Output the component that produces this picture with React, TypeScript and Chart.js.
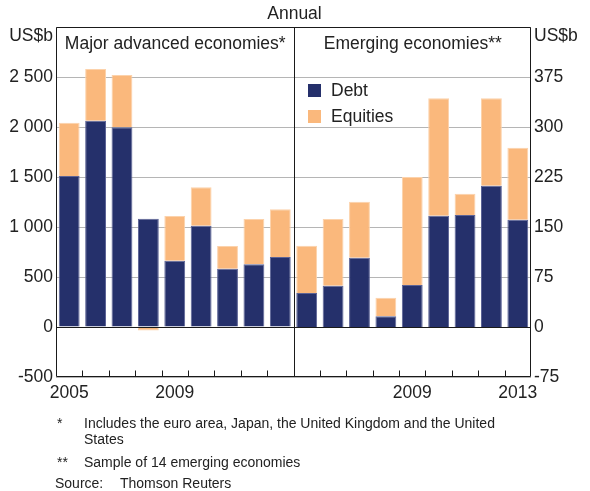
import React, { useEffect, useRef } from 'react';
import { Chart, registerables } from 'chart.js';

Chart.register(...registerables);

const years = ['2005', '2006', '2007', '2008', '2009', '2010', '2011', '2012', '2013'];
const xTickLabels = ['2005', '', '', '', '2009', '', '', '', '', '', '', '', '', '2009', '', '', '', '2013'];
const advDebt = [1510, 2063, 1997, 1083, 663, 1013, 583, 627, 700];
const advEquities = [533, 517, 523, -35, 447, 384, 227, 453, 477];
const emDebt = [51, 62, 104, 16, 63, 167, 168, 212, 161];
const emEquities = [71, 100, 84, 28, 162, 176, 32, 131, 108];
const leftTicks = { min: -500, max: 3000, step: 500 };
const rightTicks = { min: -75, max: 450, step: 75 };

const DEBT = '#25306b';
const DEBT_EDGE = '#5c6396';
const EQ = '#fab87c';
const EQ_EDGE = '#fcd2ab';
const TEXT = '#222222';
const FONT = "'Liberation Sans', Arial, sans-serif";
const FS = 17.5;

const fmt = (v: number) => {
  const a = Math.abs(v);
  const s = a >= 1000 ? `${Math.floor(a / 1000)} ${String(a % 1000).padStart(3, '0')}` : String(a);
  return v < 0 ? `-${s}` : s;
};

export default function App() {
  const ref = useRef<HTMLCanvasElement>(null);
  useEffect(() => {
    document.body.style.margin = '0';
    const empty = years.map(() => null);
    const labels = [...years, ...years];
    const n = years.length;

    const decor = {
      id: 'decor',
      afterDatasetsDraw(chart: any) {
        const { ctx, chartArea: a, scales } = chart;
        const xs = scales.x;
        const ys = scales.y;
        const mid = Math.round((xs.getPixelForValue(n - 1) + xs.getPixelForValue(n)) / 2) + 0.5;
        ctx.save();
        const z = Math.round(ys.getPixelForValue(0)) + 0.5;
        ctx.strokeStyle = '#1a1a1a';
        ctx.lineWidth = 1;
        ctx.beginPath();
        ctx.moveTo(a.left, z);
        ctx.lineTo(a.right, z);
        ctx.stroke();
        const L = Math.round(a.left) + 0.5, R = Math.round(a.right) - 0.5;
        const T = Math.round(a.top) + 0.5, B = Math.round(a.bottom) - 0.5;
        ctx.beginPath();
        ctx.moveTo(L, T); ctx.lineTo(R, T); ctx.lineTo(R, B); ctx.lineTo(L, B); ctx.closePath();
        ctx.moveTo(mid, T); ctx.lineTo(mid, B);
        ctx.stroke();
        ctx.beginPath();
        for (let i = 0; i < 2 * n - 1; i++) {
          if (i === n - 1) continue;
          const x = Math.round((xs.getPixelForValue(i) + xs.getPixelForValue(i + 1)) / 2) + 0.5;
          ctx.moveTo(x, B);
          ctx.lineTo(x, B - 6);
        }
        ctx.stroke();
        ctx.fillStyle = TEXT;
        ctx.font = `${FS}px ${FONT}`;
        ctx.textBaseline = 'middle';
        ctx.textAlign = 'center';
        ctx.fillText('Annual', mid, 14);
        ctx.fillText('Major advanced economies*', (a.left + mid) / 2, 44);
        ctx.fillText('Emerging economies**', (mid + a.right) / 2, 44);
        ctx.textAlign = 'right';
        ctx.fillText('US$b', a.left - 3, 36);
        ctx.textAlign = 'left';
        ctx.fillText('US$b', a.right + 3, 36);
        ctx.fillStyle = DEBT;
        ctx.fillRect(308, 84, 13, 13);
        ctx.fillStyle = EQ;
        ctx.fillRect(308, 110, 13, 13);
        ctx.fillStyle = TEXT;
        ctx.fillText('Debt', 331, 91);
        ctx.fillText('Equities', 331, 117);
        ctx.restore();
      },
    };

    const chart = new Chart(ref.current as HTMLCanvasElement, {
      type: 'bar',
      data: {
        labels,
        datasets: [
          { label: 'Debt', data: [...advDebt, ...empty], backgroundColor: DEBT, borderColor: DEBT_EDGE, yAxisID: 'y', stack: 's' },
          { label: 'Equities', data: [...advEquities, ...empty], backgroundColor: EQ, borderColor: EQ_EDGE, yAxisID: 'y', stack: 's' },
          { label: 'Debt', data: [...empty, ...emDebt], backgroundColor: DEBT, borderColor: DEBT_EDGE, yAxisID: 'y1', stack: 's' },
          { label: 'Equities', data: [...empty, ...emEquities], backgroundColor: EQ, borderColor: EQ_EDGE, yAxisID: 'y1', stack: 's' },
        ] as any,
      },
      options: {
        responsive: false,
        animation: false,
        layout: { padding: { top: 27, left: 0, right: 0, bottom: 0 } },
        datasets: { bar: { categoryPercentage: 1, barPercentage: 0.79, borderWidth: 1 } },
        plugins: { legend: { display: false }, tooltip: { enabled: false } },
        scales: {
          x: {
            stacked: true,
            grid: { display: false, drawTicks: false },
            border: { display: false },
            ticks: {
              autoSkip: false,
              maxRotation: 0,
              padding: 6,
              color: TEXT,
              font: { family: FONT, size: FS },
              callback: (_v: any, i: number) => xTickLabels[i],
            },
            afterFit: (s: any) => { s.height = 114; },
          },
          y: {
            position: 'left',
            stacked: true,
            min: leftTicks.min,
            max: leftTicks.max,
            grid: {
              drawTicks: false,
              color: (c: any) => (c.tick && c.tick.value === 0 ? '#1a1a1a' : '#b5b5b5'),
              lineWidth: 1,
            },
            border: { display: false },
            ticks: {
              stepSize: leftTicks.step,
              padding: 3,
              color: TEXT,
              font: { family: FONT, size: FS },
              callback: (v: any) => (v === leftTicks.max ? '' : fmt(v)),
            },
            afterFit: (s: any) => { s.width = 56; },
          },
          y1: {
            position: 'right',
            stacked: true,
            min: rightTicks.min,
            max: rightTicks.max,
            grid: { display: false, drawTicks: false },
            border: { display: false },
            ticks: {
              stepSize: rightTicks.step,
              padding: 3,
              color: TEXT,
              font: { family: FONT, size: FS },
              callback: (v: any) => (v === rightTicks.max ? '' : fmt(v)),
            },
            afterFit: (s: any) => { s.width = 59; },
          },
        },
      } as any,
      plugins: [decor],
    });
    return () => chart.destroy();
  }, []);

  const note: React.CSSProperties = {
    position: 'absolute',
    fontFamily: FONT,
    fontSize: 14,
    lineHeight: '16px',
    color: TEXT,
    whiteSpace: 'nowrap',
  };

  return (
    <div style={{ position: 'absolute', left: 0, top: 0, width: 590, height: 491 }}>
      <canvas ref={ref} width={590} height={491} style={{ display: 'block' }} />
      <div style={{ ...note, left: 57, top: 415 }}>*</div>
      <div style={{ ...note, left: 84, top: 415 }}>
        Includes the euro area, Japan, the United Kingdom and the United
        <br />
        States
      </div>
      <div style={{ ...note, left: 57, top: 454 }}>**</div>
      <div style={{ ...note, left: 84, top: 454 }}>Sample of 14 emerging economies</div>
      <div style={{ ...note, left: 55, top: 475 }}>Source:</div>
      <div style={{ ...note, left: 120, top: 475 }}>Thomson Reuters</div>
    </div>
  );
}
